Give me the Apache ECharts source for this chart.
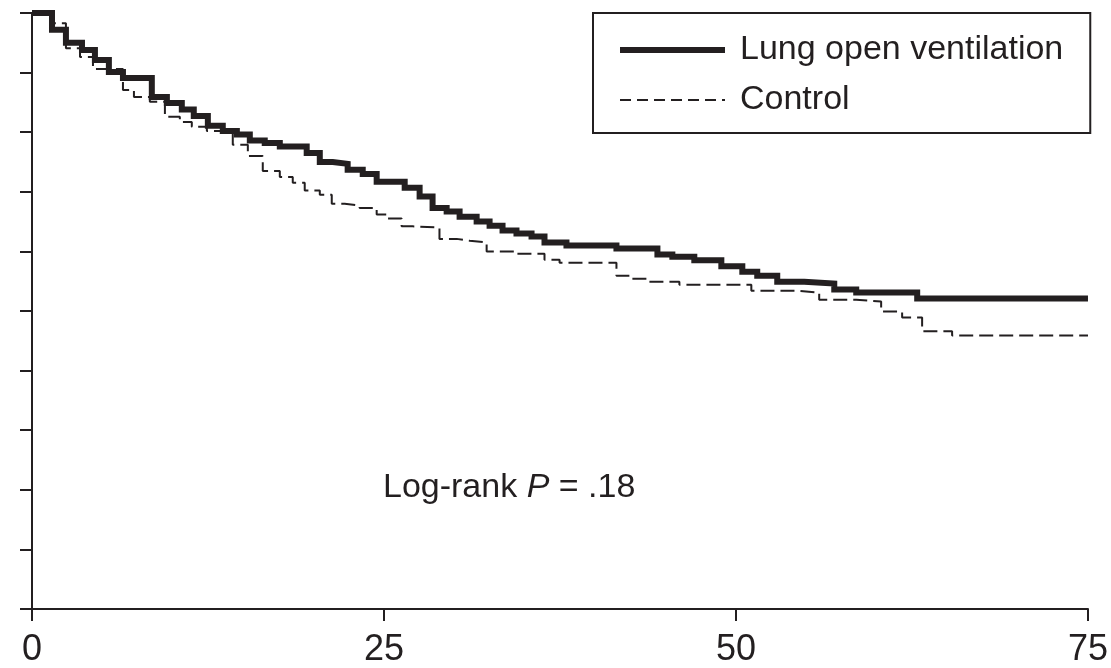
<!DOCTYPE html>
<html>
<head>
<meta charset="utf-8">
<script src="https://cdn.jsdelivr.net/npm/echarts@6/dist/echarts.min.js"></script>
<style>
html,body{margin:0;padding:0;background:#fff;}
#chart{width:1111px;height:668px;}
</style>
</head>
<body>
<div id="chart"></div>
<script>
// Tick labels for the x axis
var xTicks = [0, 25, 50, 75];

// Lung open ventilation (Kaplan-Meier step points: time, survival after the step)
var lovTime = [0, 1.42, 2.41, 3.55, 4.47, 5.46, 6.46, 8.51, 9.58, 10.64, 11.49, 12.49, 13.55, 14.55, 15.47, 16.53, 17.60, 19.51, 20.44, 21.36, 22.42, 23.49, 24.48, 26.47, 27.53, 28.45, 29.45, 30.37, 31.58, 32.50, 33.42, 34.41, 35.48, 36.40, 37.96, 41.51, 44.42, 45.48, 47.04, 48.96, 50.45, 51.51, 52.93, 54.85, 56.98, 58.54, 62.87, 75];
var lovSurv = [1.000, 0.972, 0.950, 0.938, 0.921, 0.901, 0.891, 0.859, 0.849, 0.838, 0.827, 0.811, 0.802, 0.796, 0.786, 0.782, 0.776, 0.765, 0.750, 0.747, 0.737, 0.730, 0.717, 0.707, 0.692, 0.673, 0.667, 0.658, 0.650, 0.643, 0.635, 0.630, 0.625, 0.615, 0.610, 0.605, 0.595, 0.591, 0.585, 0.575, 0.566, 0.559, 0.549, 0.546, 0.536, 0.531, 0.521, 0.521];

// Control
var ctrlTime = [0, 1.28, 2.41, 3.41, 4.33, 6.46, 7.24, 8.37, 9.44, 10.50, 11.35, 12.42, 14.26, 15.33, 16.39, 17.60, 18.52, 19.37, 20.44, 21.29, 22.21, 23.27, 24.48, 25.26, 26.25, 27.03, 28.94, 30.16, 31.08, 32.29, 34.41, 36.40, 37.47, 41.51, 42.57, 43.64, 45.98, 51.09, 54.35, 55.91, 58.54, 60.31, 61.80, 63.22, 65.35, 75];
var ctrlSurv = [1.000, 0.983, 0.941, 0.926, 0.906, 0.871, 0.859, 0.851, 0.826, 0.817, 0.809, 0.802, 0.779, 0.760, 0.735, 0.725, 0.715, 0.702, 0.695, 0.680, 0.677, 0.673, 0.662, 0.655, 0.642, 0.640, 0.621, 0.618, 0.615, 0.600, 0.596, 0.586, 0.581, 0.559, 0.554, 0.549, 0.544, 0.534, 0.531, 0.519, 0.516, 0.499, 0.489, 0.466, 0.459, 0.459];

var seriesNames = ['Lung open ventilation', 'Control'];

function pairs(t, s) {
  return t.map(function (v, i) { return [v, s[i]]; });
}

var ink = '#231f20';
var font = '"Liberation Sans", Arial, Helvetica, sans-serif';

var chart = echarts.init(document.getElementById('chart'), null, {renderer: 'canvas'});
chart.setOption({
  animation: false,
  backgroundColor: '#fff',
  grid: {left: 32, right: 22, top: 13, bottom: 58, containLabel: false},
  title: {
    left: 378, top: 466,
    text: '{a|Log-rank }{b|P}{a| = .18}',
    textStyle: {
      fontWeight: 'normal',
      rich: {
        a: {fontSize: 34, fontFamily: font, color: ink, fontWeight: 'normal'},
        b: {fontSize: 34, fontFamily: font, color: ink, fontStyle: 'italic', fontWeight: 'normal'}
      }
    }
  },
  legend: {
    orient: 'vertical',
    left: 593, top: 13,
    padding: [20, 27, 16, 24],
    borderColor: ink, borderWidth: 2,
    itemWidth: 105, itemHeight: 30, itemGap: 16,
    textStyle: {fontSize: 34, fontFamily: font, color: ink, padding: [0, 0, 0, 10]},
    data: [
      {name: seriesNames[0], itemStyle: {opacity: 0}, lineStyle: {width: 6, color: ink, type: 'solid'}},
      {name: seriesNames[1], itemStyle: {opacity: 0}, lineStyle: {width: 2, color: ink, type: [11, 6]}}
    ]
  },
  xAxis: {
    type: 'value', min: 0, max: 75, interval: 25,
    axisLine: {show: true, lineStyle: {color: ink, width: 2}},
    axisTick: {show: true, length: 12, lineStyle: {color: ink, width: 2}},
    axisLabel: {fontSize: 36, fontFamily: font, color: ink, margin: 23,
      formatter: function (v) { return xTicks.indexOf(v) >= 0 ? String(v) : ''; }},
    splitLine: {show: false}
  },
  yAxis: {
    type: 'value', min: 0, max: 1, interval: 0.1,
    axisLine: {show: true, lineStyle: {color: ink, width: 2}},
    axisTick: {show: true, length: 12, lineStyle: {color: ink, width: 2}},
    axisLabel: {show: false},
    splitLine: {show: false}
  },
  series: [
    {
      name: seriesNames[0], type: 'line', step: 'end', symbol: 'none',
      data: pairs(lovTime, lovSurv), z: 3,
      lineStyle: {color: ink, width: 6, join: 'miter'},
      itemStyle: {color: ink}
    },
    {
      name: seriesNames[1], type: 'line', step: 'end', symbol: 'none',
      data: pairs(ctrlTime, ctrlSurv), z: 2,
      lineStyle: {color: ink, width: 2, type: [14, 6]},
      itemStyle: {color: ink}
    }
  ]
});
</script>
</body>
</html>
